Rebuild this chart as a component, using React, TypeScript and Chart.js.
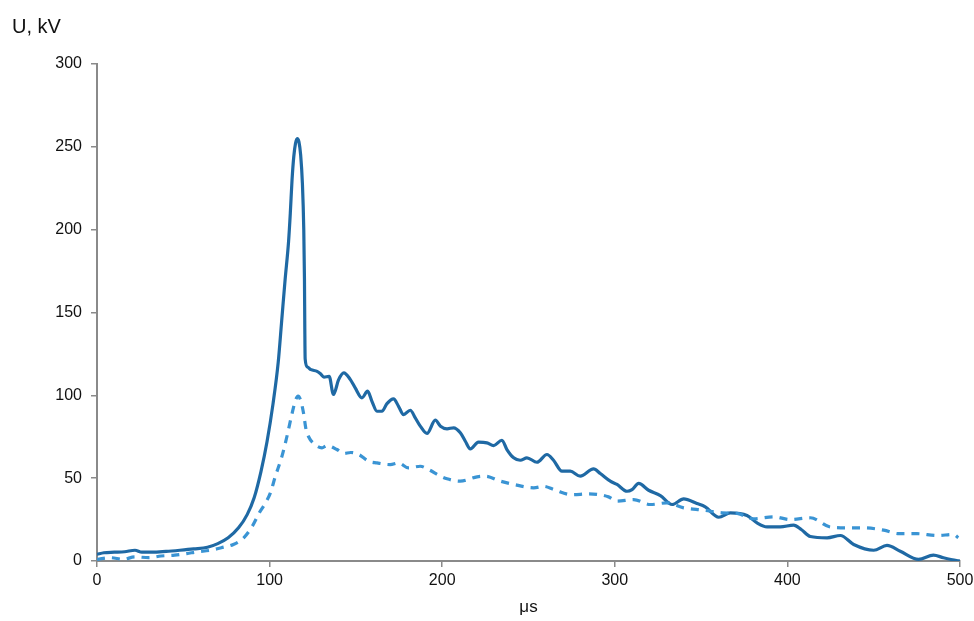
import React, { useEffect, useRef } from "react";
import { Chart, registerables } from "chart.js";

Chart.register(...registerables);

const solidTime = [0, 4, 10, 16, 22, 26, 32, 40, 48, 56, 64, 70, 76, 82, 87, 91, 95, 98.5, 102, 105, 107, 109, 111, 112, 113, 114, 115, 116, 117, 118, 119, 119.8, 120.2, 120.4, 120.6, 122, 124, 127.5, 129.5, 131.5, 134.5, 137, 140, 143, 146.8, 149.6, 153.5, 156.8, 159.3, 162.2, 165.1, 168, 171.8, 174.7, 177.6, 181.5, 184.4, 187.3, 191.2, 196, 199, 202.8, 206.6, 210.5, 213.4, 216.3, 221, 225.9, 229.8, 234.6, 237.5, 241.4, 245.2, 249.1, 254.9, 260.7, 264.5, 269.4, 274.2, 280, 287.7, 291.6, 297.4, 301.3, 307.1, 310, 313.8, 319.6, 326.4, 333.2, 339.9, 347.6, 352.4, 360.2, 366.9, 376.6, 382.4, 388.2, 395.9, 403.6, 408, 413.3, 423, 430.7, 438.4, 450, 457.7, 465.4, 476, 484.6, 490.4, 498.1, 500];
const solidKV = [4, 5, 5.3, 5.6, 6.5, 5.3, 5.3, 5.8, 6.5, 7.3, 8.3, 10.5, 14, 20, 28, 38, 54, 72, 95, 120, 145, 170, 193, 210, 230, 244, 252, 255, 253, 245, 228, 200, 170, 140, 122, 117, 115.5, 114.5, 113, 111, 111.5, 100.5, 109.5, 113.6, 109.5, 104.5, 98.5, 102.5, 96.4, 90.4, 90.4, 95, 97.9, 93.4, 88.4, 91, 86.4, 81.4, 77, 85, 81.4, 79.8, 80.4, 77.4, 72.3, 67.7, 71.7, 71.3, 69.7, 72.9, 67.3, 62.3, 60.8, 62.3, 59.6, 64.3, 60.8, 54.2, 54.2, 51.2, 55.6, 52.8, 48.2, 46.2, 42.1, 43.1, 46.8, 42.7, 39.5, 34.1, 37.5, 34.7, 32.7, 26.4, 29.1, 27.5, 23, 20.6, 20.6, 21.6, 19, 14.8, 14, 15.4, 10, 6.5, 9.4, 5.9, 1, 3.5, 2, 0.3, 0];

const dashedTime = [0, 8, 15, 22, 30, 37, 45, 52, 58, 66, 72, 79, 85, 90, 94, 97, 100.4, 103.3, 107.1, 110, 113, 115, 116.5, 118, 119.7, 121, 122.6, 125.5, 130.3, 133.2, 139, 142.9, 147, 151.6, 157.4, 162.2, 169.9, 174.7, 180.5, 187.3, 192.1, 199, 202.8, 210.5, 220.2, 225, 233.7, 241.4, 253, 258.8, 265, 275, 285, 296.4, 301.3, 310.9, 320.6, 330.2, 339.9, 351.5, 362.1, 370.8, 380.4, 392, 401.6, 413.3, 424.9, 434.6, 444.2, 455.8, 464.5, 475.1, 486.7, 496.3, 499];
const dashedKV = [1, 2, 1, 2.5, 2, 3, 3.5, 4.5, 5.5, 6.5, 8, 10, 14, 21, 29, 34, 41, 51, 63, 75, 89, 97, 99.5, 97, 89, 80, 75, 71, 68.3, 69.7, 67.3, 64.9, 65.5, 64.3, 60.2, 59.2, 58.2, 59.2, 56.2, 57.2, 55.2, 51.2, 49.6, 48.2, 50.8, 51.2, 48.2, 46.2, 44.2, 45.1, 43, 40, 40.5, 38.7, 36.1, 37.1, 34.1, 35.1, 32.1, 30.7, 29.1, 28.7, 25.5, 26.7, 25, 26.1, 20.5, 20, 20, 18.6, 16.5, 16.5, 15.4, 16, 14];

const yAxisLabel = "U, kV";
const xAxisLabel = "μs";
const FONT = "'Liberation Sans', Arial, sans-serif";

const toPoints = (xs: number[], ys: number[]) => xs.map((x, i) => ({ x, y: ys[i] }));

const cornerLabel = {
  id: "cornerLabel",
  afterDraw(chart: any) {
    const ctx = chart.ctx;
    ctx.save();
    ctx.font = `20px ${FONT}`;
    ctx.fillStyle = "#111";
    ctx.textBaseline = "alphabetic";
    ctx.textAlign = "left";
    ctx.fillText(yAxisLabel, 12, 33);
    ctx.restore();
  },
};

export default function App() {
  const ref = useRef<HTMLCanvasElement>(null);
  useEffect(() => {
    if (!ref.current) return;
    const chart = new Chart(ref.current, {
      type: "line",
      data: {
        datasets: [
          {
            data: toPoints(dashedTime, dashedKV),
            borderColor: "#3a94d4",
            borderWidth: 3.2,
            borderDash: [8, 7],
            pointRadius: 0,
            cubicInterpolationMode: "monotone",
            fill: false,
          },
          {
            data: toPoints(solidTime, solidKV),
            borderColor: "#1f69a4",
            borderWidth: 3.2,
            pointRadius: 0,
            cubicInterpolationMode: "monotone",
            fill: false,
          },
        ],
      },
      options: {
        responsive: false,
        animation: false,
        layout: { padding: { top: 64, right: 14, left: 0, bottom: 0 } },
        plugins: { legend: { display: false }, tooltip: { enabled: false }, title: { display: false } },
        scales: {
          x: {
            type: "linear",
            min: 0,
            max: 500,
            ticks: { stepSize: 100, color: "#111", padding: 4, font: { family: FONT, size: 16 } },
            grid: { display: true, drawOnChartArea: false, drawTicks: true, tickLength: 6, color: "#8a8a8a", lineWidth: 1.5 },
            border: { display: true, color: "#8a8a8a", width: 2 },
            title: { display: true, text: xAxisLabel, color: "#111", font: { family: FONT, size: 17 }, padding: { top: 0, bottom: 3 } },
            afterFit: (s: any) => { s.height = 60; s.paddingLeft = 0; s.paddingRight = 0; },
          },
          y: {
            min: 0,
            max: 300,
            ticks: { stepSize: 50, color: "#111", padding: 9, font: { family: FONT, size: 16 } },
            grid: { display: true, drawOnChartArea: false, drawTicks: true, tickLength: 6, color: "#8a8a8a", lineWidth: 1.5 },
            border: { display: true, color: "#8a8a8a", width: 2 },
            afterFit: (s: any) => { s.width = 97; s.paddingTop = 0; s.paddingBottom = 0; },
          },
        },
      },
      plugins: [cornerLabel],
    } as any);
    return () => chart.destroy();
  }, []);
  return (
    <div style={{ position: "fixed", left: 0, top: 0, width: 974, height: 621, background: "#fff" }}>
      <canvas ref={ref} width={974} height={621} style={{ display: "block" }} />
    </div>
  );
}
